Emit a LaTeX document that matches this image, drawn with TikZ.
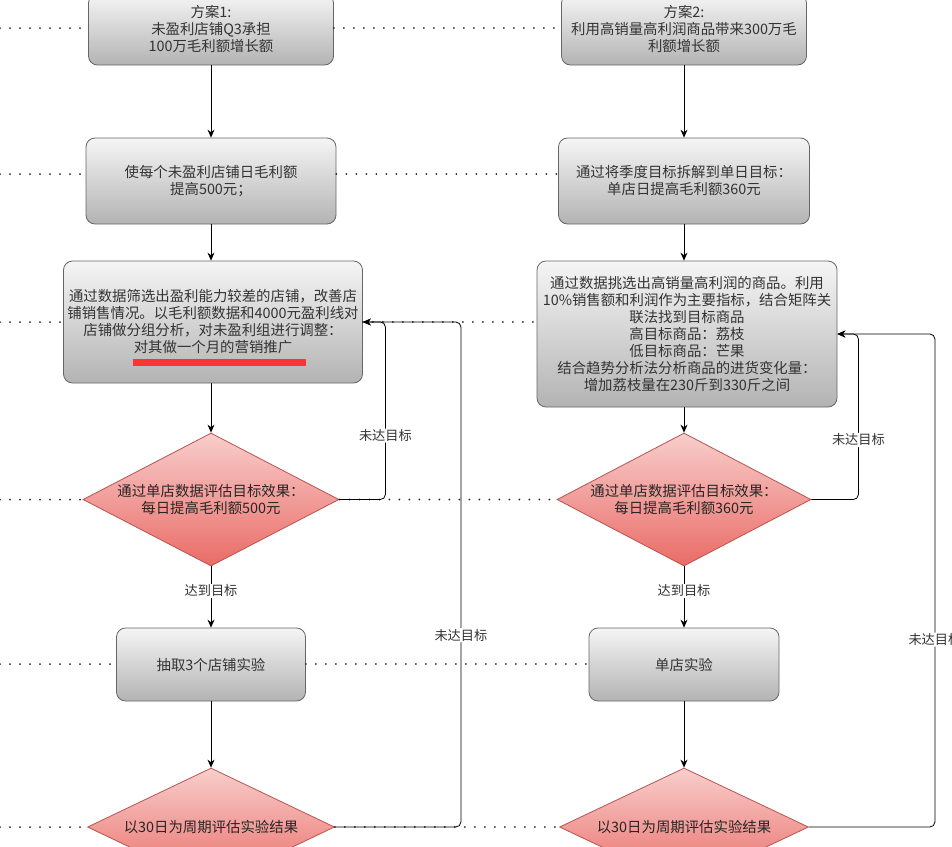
\documentclass[tikz,border=0pt]{standalone}
\usepackage{fontspec}
\setmainfont{Noto Sans CJK SC}
\usetikzlibrary{shapes.geometric,arrows.meta}
\definecolor{boxtop}{HTML}{F5F5F5}
\definecolor{boxbot}{HTML}{B3B3B3}
\definecolor{boxline}{HTML}{666666}
\definecolor{dectop}{HTML}{F8CECC}
\definecolor{decbot}{HTML}{EA6B66}
\definecolor{decline}{HTML}{B85450}
\definecolor{txt}{HTML}{333333}
\definecolor{redbar}{HTML}{FF3333}
\tikzset{
  stepbox/.style={draw=boxline, line width=0.8pt, rounded corners=9pt,
    top color=boxtop, bottom color=boxbot, align=center, text=txt,
    inner sep=0pt, font=\fontsize{14.4}{17}\selectfont},
  decision/.style={diamond, aspect=2, draw=decline, line width=0.8pt,
    top color=dectop, bottom color=decbot, align=center, text=black!85,
    inner sep=0pt, font=\fontsize{14.4}{17}\selectfont},
  flow/.style={draw=black, line width=0.8pt, -{Stealth[length=8pt,width=7pt]}},
  back/.style={flow, rounded corners=5pt},
  dotrow/.style={draw=black!85, line width=2pt, line cap=round,
    dash pattern=on 0pt off 10pt},
  lbl/.style={fill=white, inner sep=1pt, text=txt, font=\fontsize{13.2}{15}\selectfont}
}
\begin{document}
\begin{tikzpicture}[x=1pt,y=-1pt]
  \useasboundingbox (0,0) rectangle (952,846);
  % Plan 1 column
  \node[stepbox, minimum width=245, minimum height=71] (plan1) at (211,29.5)
    {方案1:\\未盈利店铺Q3承担\\100万毛利额增长额};
  \node[stepbox, minimum width=250, minimum height=86] (daily1) at (211,181)
    {使每个未盈利店铺日毛利额\\提高500元；};
  \node[stepbox, minimum width=299, minimum height=122] (filter1) at (213,322)
    {通过数据筛选出盈利能力较差的店铺，改善店\\铺销售情况。以毛利额数据和4000元盈利线对\\店铺做分组分析，对未盈利组进行调整：\\对其做一个月的营销推广};
  \node[fill=redbar, minimum width=173, minimum height=7, inner sep=0pt] (bar1) at (219.5,362) {};
  \node[decision, minimum width=256, minimum height=133] (eval1) at (211,499.5)
    {通过单店数据评估目标效果：\\每日提高毛利额500元};
  \node[stepbox, minimum width=189, minimum height=73] (test1) at (211,664.5)
    {抽取3个店铺实验};
  \node[decision, minimum width=247, minimum height=118] (cycle1) at (211,827)
    {以30日为周期评估实验结果};
  % Plan 2 column
  \node[stepbox, minimum width=245, minimum height=71] (plan2) at (684,29.5)
    {方案2:\\利用高销量高利润商品带来300万毛\\利额增长额};
  \node[stepbox, minimum width=251, minimum height=86] (daily2) at (684,181)
    {通过将季度目标拆解到单日目标：\\单店日提高毛利额360元};
  \node[stepbox, minimum width=300, minimum height=146] (pick2) at (687,334)
    {通过数据挑选出高销量高利润的商品。利用\\10\%销售额和利润作为主要指标，结合矩阵关\\联法找到目标商品\\高目标商品：荔枝\\低目标商品：芒果\\结合趋势分析法分析商品的进货变化量：\\增加荔枝量在230斤到330斤之间};
  \node[decision, minimum width=254, minimum height=133] (eval2) at (684,499.5)
    {通过单店数据评估目标效果：\\每日提高毛利额360元};
  \node[stepbox, minimum width=190, minimum height=73] (test2) at (684,664.5)
    {单店实验};
  \node[decision, minimum width=249, minimum height=118] (cycle2) at (684,827)
    {以30日为周期评估实验结果};
  % Dotted rows
  \foreach \y/\l/\r in {28/plan1/plan2, 174/daily1/daily2, 322/filter1/pick2,
      499.5/eval1/eval2, 664/test1/test2, 827/cycle1/cycle2} {
    \coordinate (row) at (0,\y);
    \draw[dotrow] (row) -- (row -| \l.west);
    \draw[dotrow] (row -| \l.east) -- (row -| \r.west);
  }
  % Main flow
  \foreach \c in {1,2} {
    \draw[flow] (plan\c.south) -- (daily\c.north);
    \draw[flow] (test\c.south) -- (cycle\c.north);
  }
  \draw[flow] (daily1.south) -- (daily1.south |- filter1.north);
  \draw[flow] (daily1.south |- filter1.south) -- (eval1.north);
  \draw[flow] (eval1.south) -- node[lbl, pos=0.4] {达到目标} (test1.north);
  \draw[flow] (daily2.south) -- (daily2.south |- pick2.north);
  \draw[flow] (daily2.south |- pick2.south) -- (eval2.north);
  \draw[flow] (eval2.south) -- node[lbl, pos=0.4] {达到目标} (test2.north);
  % Feedback loops
  \draw[back] (eval1.east) -- ++(46,0) |- node[lbl, pos=0.18] {未达目标} (filter1.east);
  \draw[back] (cycle1.east) -- ++(126,0) |- node[lbl, pos=0.19] {未达目标} (filter1.east);
  \draw[back] (eval2.east) -- ++(47,0) |- node[lbl, pos=0.18] {未达目标} (pick2.east);
  \draw[back] (cycle2.east) -- ++(126,0) |- node[lbl, pos=0.19] {未达目标} (pick2.east);
\end{tikzpicture}
\end{document}
